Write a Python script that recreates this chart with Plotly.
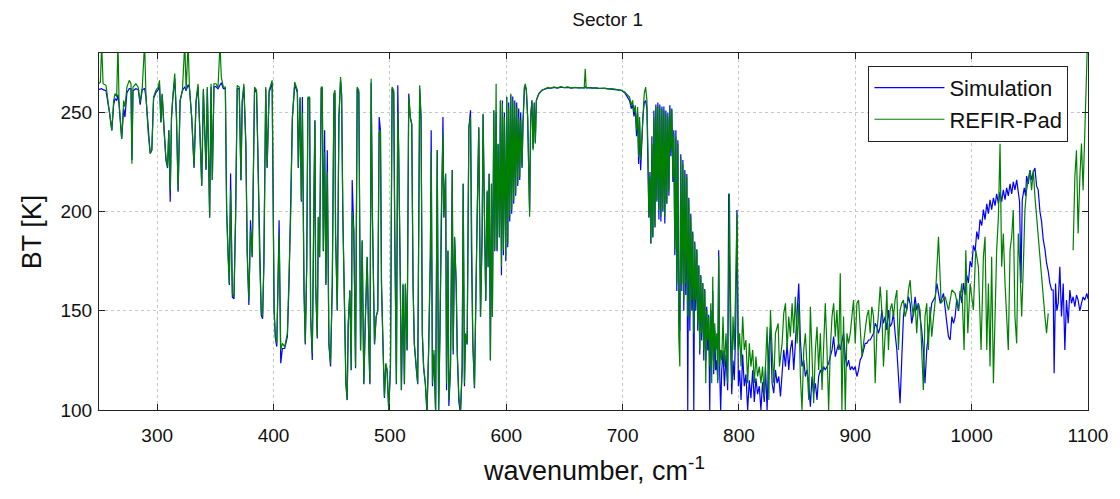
import plotly.graph_objects as go

# ---------------- data ----------------
# shared wavenumber grid 250-780 cm-1 (both spectra)
wn_a = [
    250, 251.2, 252.3, 253.5, 256, 259, 261, 262.6, 263.8, 265.2,
    266.3, 267.2, 269.5, 271.2, 272.3, 274, 276, 277.5, 278.3, 279.2,
    281.7, 283.7, 285.4, 287.2, 289.2, 290.3, 292.3, 294, 295.4, 296.9,
    298.9, 300.9, 302, 303.2, 304.3, 306, 307.5, 308.9, 310, 311.2,
    312.3, 313.4, 315.1, 316.6, 318, 319.7, 321.7, 323.7, 324.9, 326.6,
    327.7, 329.7, 331.7, 333.4, 335.1, 336.8, 338.3, 339.7, 340.8, 342,
    343.1, 344, 345.1, 346.3, 347.4, 348.8, 350.5, 352.3, 354, 355.1,
    356.9, 358.6, 359.7, 360.9, 362, 363.1, 364.6, 366, 367.4, 368.8,
    370.5, 372, 373.1, 374.5, 376.2, 377.4, 378.8, 380.2, 381.7, 383.7,
    385.4, 386.5, 388, 389.4, 390.6, 391.7, 393.3, 394.5, 396.2, 398.8,
    400.5, 401.6, 402.8, 404.8, 406.2, 407.6, 409.6, 411.9, 413.3, 414.8,
    416.2, 418.2, 420.5, 421.3, 422.8, 423.9, 424.8, 426.2, 427.3, 428.5,
    429.6, 431.0, 431.9, 433.3, 434.8, 435.6, 436.2, 437.6, 438.5, 439.6,
    441.0, 441.9, 442.8, 443.9, 445.0, 446.2, 447.6, 449.0, 450.5, 451.9,
    452.8, 453.3, 454.8, 456.2, 457.6, 458.5, 459.6, 461.0, 462.2, 463.3,
    464.2, 465.6, 466.8, 467.6, 469.0, 470.5, 471.9, 473.3, 474.8, 476.2,
    477.6, 479.0, 480.5, 481.9, 482.8, 483.9, 485.0, 486.8, 488.2, 489.6,
    490.8, 491.9, 492.8, 494.2, 495.3, 496.5, 497.6, 499.0, 500.5, 501.9,
    503.3, 504.2, 505.6, 506.8, 507.6, 509.0, 509.9, 511.3, 512.5, 513.3,
    514.8, 516.2, 517.6, 518.8, 519.9, 521.0, 522.8, 523.9, 525.6, 526.8,
    527.9, 529.0, 530.5, 531.9, 533.3, 534.8, 535.5, 536.6, 537.9, 539.3,
    540.7, 541.9, 543, 544.1, 545.6, 546.4, 547.9, 548.7, 549.9, 550.7,
    552.1, 553.6, 554.4, 555.6, 557, 557.9, 559.3, 560.7, 562.1, 563,
    564.1, 565, 566.4, 567.9, 569.3, 570.1, 571.3, 572.7, 573.6, 575,
    576.4, 577.9, 579.3, 580.1, 581.3, 582.4, 583.6, 584.4, 585.3, 586.4,
    587.3, 588.1, 589.3, 590.1, 591.3, 592.1, 593, 594.1, 595, 595.9,
    596.7, 597.6, 598.4, 599.6, 600.4, 601.3, 602.1, 603, 603.9, 604.7,
    605.6, 606.4, 607.3, 608.1, 609, 609.9, 610.7, 611.6, 612.4, 613.6,
    614.4, 615.6, 616.4, 617.3, 618.4, 619.3, 620.1, 621, 622.1, 623,
    624.1, 625, 625.9, 627, 628.1, 630.7, 633.6, 636, 638, 641,
    644, 647, 650, 653, 656, 659, 662, 665, 667, 667.9,
    668.7, 671, 674, 677, 680, 684.6, 688, 690.3, 694.6, 698.9,
    701.8, 704, 706, 707.5, 708.6, 709.8, 710.9, 712, 712.9, 713.8,
    714.6, 715.5, 716.3, 717.5, 718.6, 719.8, 720.9, 721.8, 722.6, 723.5,
    724.3, 725.2, 726, 726.9, 727.8, 728.6, 729.5, 730.3, 731.2, 732,
    732.9, 733.8, 734.6, 735.5, 736.3, 737.2, 738, 738.9, 739.8, 740.6,
    741.5, 742.3, 743.2, 744, 744.9, 745.8, 746.6, 747.5, 748.3, 749.2,
    750, 750.9, 751.8, 752.6, 753.5, 754.3, 755.2, 756, 756.9, 757.8,
    758.6, 759.5, 760.3, 761.2, 762, 762.9, 763.8, 764.6, 765.5, 766.3,
    767.2, 768, 768.9, 769.8, 770.6, 771.5, 772.3, 773.2, 774, 774.9,
    775.8, 776.6, 777.5, 778.3, 779.2, 780,
]

refir_a = [
    264.5, 265.4, 285, 264.5, 263.7, 251, 241, 256, 259.5, 258,
    285, 256, 236.8, 256, 252.8, 262.8, 266.2, 264.5, 224.2, 262.8,
    264.5, 262.8, 255.3, 262.8, 285, 259.5, 239.4, 229.3, 231, 257.8,
    261.2, 262.8, 266.2, 245.2, 259.5, 239.4, 227.6, 222.6, 241, 210.8,
    247.7, 257.8, 269.6, 247.7, 210.8, 256, 261.2, 285, 261.2, 285,
    262.8, 247.7, 222.6, 256, 264.5, 239.4, 213.3, 262, 239.4, 221.7,
    262.8, 231, 197.4, 264.5, 215.9, 264.5, 264.5, 262.8, 285, 267.9,
    262.8, 262.8, 200.8, 177.3, 163.8, 210.8, 158.8, 157.1, 197.4, 263.7,
    262.8, 215.9, 256, 264.5, 234.3, 178.9, 155.4, 190.7, 177.3, 262.8,
    261.2, 231, 177.3, 150.4, 147.1, 173.9, 262.8, 222.6, 261.2, 266.2,
    150.4, 137, 133.6, 189, 130.3, 133.6, 132, 138.7, 163.8, 199.1,
    247.7, 265.4, 261.2, 222.6, 257.8, 205.8, 250, 160.5, 133.6, 172.2,
    257.8, 257.8, 147.1, 128.6, 217.5, 246.1, 163.8, 137, 197.4, 177.3,
    262.8, 262.8, 180.6, 230, 163.8, 220, 133.6, 123.6, 163.8, 259.5,
    261.2, 189, 150.4, 247.7, 267.9, 259.5, 197.4, 138.7, 113.5, 105.1,
    143.7, 160.5, 120.2, 200, 190.7, 121.9, 262.8, 261.2, 130.3, 185.7,
    113.5, 147.1, 177.3, 133.6, 113.5, 267.0, 197.4, 133.6, 147.1, 150.4,
    240, 241, 163.8, 130.3, 106.8, 123.6, 120.2, 100, 121.9, 262.8,
    261.2, 189, 113.5, 250, 231, 163.8, 110.1, 163.8, 113.5, 163.8,
    130.3, 257.8, 247.7, 244.4, 163.8, 133.6, 120.2, 113.5, 263.7, 247.7,
    138.7, 121.9, 113.5, 100, 130.3, 180, 230, 113.5, 130.3, 100,
    231, 100, 138.7, 197.4, 239.4, 197.4, 219.2, 113.5, 180.6, 105.1,
    121.9, 220.9, 130.3, 187.3, 163.8, 130.3, 106.8, 100, 121.9, 214.2,
    113.5, 138.7, 133.6, 242.7, 247.7, 180.6, 133.6, 111.8, 138.7, 197.4,
    242.7, 147.1, 189, 249.4, 197.4, 155.4, 210.8, 172.2, 219.2, 125.2,
    214.2, 147.1, 251.1, 180.6, 264.5, 180.6, 234.3, 187.3, 256.1, 172.2,
    254.5, 180.6, 247.7, 177.3, 257.8, 184, 252.8, 197.4, 259.5, 200.8,
    256.1, 205.8, 254.5, 209.1, 252.8, 214.2, 247.7, 217.5, 246.1, 222.6,
    242.7, 262.8, 264.5, 261.2, 247.7, 222.6, 197.4, 247.7, 256.1, 231,
    254.5, 234.3, 256.1, 257.8, 259.5, 261.2, 262, 262.6, 262.2, 262.9,
    262.4, 263, 262.5, 262.9, 262.3, 262.7, 262.4, 262.6, 262.3, 272.1,
    262.4, 262.6, 262.2, 262.5, 262.1, 262.3, 261.8, 262, 261.7, 261.2,
    260.3, 258.7, 257.8, 253.6, 256.1, 250.3, 253.6, 241, 252.8, 227.6,
    247.7, 225.9, 234.3, 251.1, 259.5, 262.8, 256.1, 231, 197.4, 217.5,
    184, 234.3, 187.3, 247.7, 192.4, 252.8, 205.8, 253.6, 200.8, 252.8,
    197.4, 251.9, 200.8, 251.1, 197.4, 249.4, 204.1, 247.7, 210.8, 251.9,
    231, 251.1, 217.5, 239.4, 180.6, 237.7, 163.8, 234.3, 137, 121.9,
    227.6, 163.8, 224.2, 155.4, 219.2, 163.8, 217.5, 147.1, 205.8, 147.1,
    197.4, 155.4, 189, 138.7, 184, 155.4, 180.6, 143.7, 172.2, 130.3,
    167.2, 138.7, 163.8, 130.3, 160.5, 113.5, 150.4, 135.3, 147.1, 121.9,
    153.8, 113.5, 167.2, 120.2, 143.7, 130.3,
]

sim_a = [
    261.6, 261.8, 262, 261.5, 261, 250, 241, 254, 257, 256,
    259, 254, 236.8, 252, 247.7, 260, 262, 262, 226, 261,
    262, 261.5, 254, 261.5, 262, 258, 239.4, 229.3, 231, 257,
    260, 261.5, 264, 245, 259, 239, 226, 222, 241, 205,
    247, 257, 267, 247, 210, 256, 261, 263, 261, 264,
    262.5, 247, 222, 255, 263, 239, 213, 261, 239, 221,
    262, 231, 197, 263, 216, 263, 263, 262, 264, 265,
    262, 262, 200, 177, 163, 219.2, 157, 156, 197, 262,
    262, 215.9, 255, 263, 234, 179, 153, 195.7, 177, 262,
    260, 231, 177, 148, 146, 174, 262, 222, 260, 265,
    150, 136, 132, 195.7, 123.6, 131, 131, 137, 163, 199,
    247, 264, 260, 222, 257, 205, 257.8, 160, 133, 172,
    257, 257, 147, 125.2, 217.5, 246, 163, 136, 197, 177,
    262, 262, 180, 241, 163, 231, 133, 122, 163, 259,
    260, 189, 150, 247, 266, 259, 197, 138, 113, 105,
    143, 160, 120, 215.9, 190, 121, 262, 260, 130, 185,
    113, 147, 177, 133, 113, 265, 197, 133, 147, 150,
    247.7, 241, 163, 130, 106, 123, 120, 100, 121, 262,
    260, 189, 113, 263.7, 231, 163, 110, 163, 113, 163,
    130, 259.5, 247, 244, 163, 133, 120, 113, 262, 247,
    138, 121, 113, 98, 130, 177, 241, 112, 128, 98,
    231, 98, 138, 197, 247.7, 197, 219, 110, 180, 102,
    120, 221, 128, 187, 163, 128, 104, 98, 120, 214,
    112, 138, 133, 242, 251.1, 180, 133, 111, 138, 197,
    242, 147, 189, 249, 197, 155, 210, 172, 219, 125,
    214, 147, 251, 180, 250, 180, 234, 187, 256, 168,
    256, 178, 250, 175, 258, 182, 255, 195, 259, 199,
    258, 204, 256, 208, 255, 213, 252, 216, 250, 222,
    246, 262, 263, 261, 248, 223, 200, 248, 256, 232,
    255, 235, 256, 258, 259.5, 261.2, 262, 262.4, 262.2, 262.6,
    262.3, 262.8, 262.5, 262.7, 262.3, 262.6, 262.4, 262.5, 262.4, 263,
    262.4, 262.5, 262.3, 262.4, 262.2, 262.2, 262, 261.9, 261.6, 261.2,
    260, 258, 256, 252, 254, 248, 252, 238, 250, 224,
    245, 220.9, 232, 248, 255, 256, 252, 230, 197, 220,
    184, 238, 187, 251, 192, 254, 205, 255, 196, 254,
    195, 253, 200, 253, 194, 251, 204, 250, 208, 253.6,
    228, 252, 215, 241, 178, 241, 160, 236, 145, 140,
    229, 160, 226, 150, 221, 158, 219, 100, 207, 140,
    199, 150, 190, 100, 185, 150, 181, 140, 173, 128,
    168, 135, 164, 125, 161, 125, 152, 130, 148, 100,
    150, 125, 160, 118, 140, 120,
]

# REFIR-Pad, 780-1100 cm-1 (None = no data drawn)
wn_refir_b = [
    780.9, 781.8, 782.6, 783.5, 784.3, 785.2, 786.3, 787.5, 788.9, 790.3,
    791.8, 792.6, 793.8, 794.9, 796, 797.2, 798.3, 799.5, 800.6, 801.8,
    803.2, 804.6, 806, 807.5, 808.9, 810.3, 811.8, 813.2, 814.6, 816,
    817.5, 818.9, 820.3, 821.8, 823.2, 824.2, 825.7, 827.1, 828.5, 829.9,
    831.4, 833.7, 834.8, 837.1, 838.5, 840, 841.4, 842.8, 844.2, 845.7,
    847.1, 848.5, 850, 851.4, 852.8, 854.2, 855.7, 857.1, 858.5, 860,
    861.4, 862.8, 864.2, 865.7, 867.1, 868.5, 870, 871.4, 872.8, 874.2,
    875.7, 877.1, 878.5, 880, 881.4, 882.8, 884.2, 885.7, 887.1, 888.5,
    889.9, 891.4, 892.8, 894.2, 895.7, 897.1, 898.5, 899.9, 901.4, 902.8,
    904.2, 905.7, 907.1, 908.5, 909.9, 911.4, 912.8, 914.2, 915.7, 917.1,
    918.5, 919.9, 921.4, 922.8, 924.2, 925.7, 927.1, 928.5, 929.9, 931.4,
    932.8, 934.2, 935.7, 937.1, 938.5, 939.9, 941.4, 942.8, 944.2, 945.7,
    947.1, 948.5, 949.9, 951.4, 952.8, 954.2, 955.7, 957.1, 958.5, 959.9,
    961.4, 962.8, 964.2, 965.7, 968.7, 971.5, 973.8, 977.2, 980.1, 983,
    985.8, 988.7, 991.5, 993.5, 995, 996.7, 998.7, 1001.5, 1003.5, 1005.8,
    1008.1, 1010.1, 1011.5, 1013, 1014.4, 1015.8, 1017.2, 1018.7, 1020.1, 1021.5,
    1023, 1024.4, 1025.8, 1027.2, 1028.7, 1030.1, 1031.5, 1033, 1034.4, 1035.8,
    1037.2, 1038.7, 1040.1, 1041.5, 1043, 1044.4, 1045.8, 1047.2, 1048.7, 1050.1,
    1051.5, 1053, 1054.4, 1055.8, 1057.2, 1058.7, 1060.1, 1061.5, 1063, 1064.4,
    1065.8, 1076, 1087.2, 1088.7, 1090.1, 1091.5, 1093, 1094.4, 1095.8, 1097.2,
    1098.7, 1099.5,
]
refir_b = [
    138.7, 113.5, 177.3, 121.9, 130.3, 125, 147.1, 121.9, 138.7, 113.5,
    209.1, 163.8, 113.5, 147.1, 130.3, 163.8, 199.1, 130.3, 138.7, 121.9,
    147.1, 130.3, 135.3, 113.5, 133.6, 121.9, 130.3, 113.5, 126.9, 116.9,
    121.9, 113.5, 121.9, 106.8, 130.3, 142, 105.1, 150.4, 130.3, 113.5,
    138.7, 143.7, 121.9, 133.6, 148.7, 153.8, 130.3, 147.1, 137, 153.8,
    138.7, 157.1, 133.6, 153.8, 116.9, 100, 130.3, 138.7, 121.9, 105.1,
    152.1, 130.3, 103.4, 130.3, 142, 120.2, 138.7, 110.1, 133.6, 153.8,
    130.3, 100, 130.3, 147.1, 153.8, 137, 150.4, 130.3, 168.9, 100,
    147.1, 100, 138.7, 133.6, 138.7, 147.1, 155.4, 133.6, 153.8, 155.4,
    143.7, 127, 133.6, 142, 147.1, 150.4, 138.7, 152.1, 147.1, 113.5,
    138.7, 148.7, 162.2, 150.4, 121.9, 138.7, 160.5, 130.3, 150.4, 153.8,
    147.1, 155.4, 160.5, 130.3, 150.4, 153.8, 155.4, 147.1, 150.4, 160.5,
    165.5, 153.8, 147.1, 153.8, 138.7, 153.8, 150.4, 130.3, 110.1, 147.1,
    153.8, 130.3, 152.1, 137, 155.4, 187.3, 153.8, 157.1, 150.4, 160.5,
    158.8, 150.4, 163.8, 130.3, 180.6, 138.7, 163.8, 150.4, 180.6, 172.2,
    130.3, 177.3, 187.3, 130.3, 163.8, 121.9, 177.3, 113.5, 147.1, 180.6,
    197.4, 234.3, 172.2, 189, 163.8, 147.1, 130.3, 180.6, 187.3, 200.8,
    147.1, 133.6, 189, 172.2, 147.1, 172.2, 200.8, 210.8, 217.5, 220.9,
    210.8, 220.9, 207.5, 197.4, 187.3, 177.3, 163.8, 155.4, 147.1, 138.7,
    148.7, None, 180.6, 217.5, 231, 189, 217.5, 234.3, 210.8, 239.4,
    285, 285,
]

# Simulation, 780-1100 cm-1
wn_sim_b = [
    780.9, 781.8, 782.6, 783.5, 784.3, 785.2, 786.3, 787.5, 788.9, 790.3,
    791.2, 792.6, 793.8, 794.9, 796, 797.2, 798.3, 799.5, 800.6, 801.8,
    803.2, 804.6, 806, 807.5, 808.9, 810.3, 811.8, 813.2, 814.6, 816,
    817.5, 818.9, 820.3, 821.8, 822.8, 824.2, 825.7, 827.1, 828.5, 829.9,
    831.4, 832.8, 834.2, 835.7, 837.1, 838.5, 840, 841.4, 842.8, 844.2,
    845.7, 847.1, 848.5, 850, 851.4, 852.8, 854.2, 855.7, 857.1, 858.5,
    860, 861.4, 862.8, 864.2, 865.7, 867.1, 868.5, 870, 871.4, 872.8,
    874.2, 875.7, 877.1, 878.5, 880, 881.4, 882.8, 884.2, 885.7, 887.1,
    888.5, 889.9, 891.4, 892.8, 894.2, 895.7, 897.1, 898.5, 899.9, 901.4,
    902.8, 904.2, 905.7, 907.1, 908.5, 909.9, 911.4, 912.8, 914.2, 915.7,
    917.1, 918.5, 919.9, 921.4, 922.8, 924.2, 925.7, 927.1, 928.5, 929.9,
    931.4, 932.8, 934.2, 935.7, 937.1, 938.5, 939.9, 941.4, 942.8, 944.2,
    945.7, 947.1, 948.5, 949.9, 951.4, 952.8, 954.2, 955.7, 957.1, 958.5,
    959.9, 961.4, 962.8, 964.2, 965.7, 968.7, 970.1, 973, 975.8, 978.7,
    980.1, 981.5, 983, 984.4, 985.8, 987.2, 988.7, 990.1, 991.5, 993.0,
    994.4, 995.8, 997.2, 998.7, 1000.1, 1001.5, 1003.0, 1004.4, 1005.8, 1007.2,
    1008.7, 1010.1, 1011.5, 1013.0, 1014.4, 1015.8, 1017.2, 1018.7, 1020.1, 1021.5,
    1023.0, 1024.4, 1025.8, 1027.2, 1028.7, 1030.1, 1031.5, 1033.0, 1034.4, 1035.8,
    1037.2, 1038.7, 1039.5, 1041.2, 1042.4, 1043.5, 1045.2, 1046.4, 1047.2, 1048.7,
    1050.1, 1051.5, 1053.0, 1054.4, 1055.8, 1057.2, 1058.7, 1060.1, 1061.5, 1063.0,
    1064.4, 1065.8, 1067.2, 1068.7, 1070.1, 1070.9, 1072.1, 1073.2, 1074.4, 1075.8,
    1077.2, 1078.7, 1080.1, 1081.5, 1083, 1084.4, 1085.8, 1087.2, 1088.7, 1090.1,
    1091.5, 1093, 1094.4, 1095.8, 1097.2, 1099, 1100,
]
sim_b = [
    125, 115, 180.6, 118, 100, 120, 130, 112, 128, 110,
    209, 140, 108, 125, 115, 140, 200.8, 112, 120, 105,
    128, 112, 118, 100, 115, 106, 120, 104, 116, 108,
    112, 100, 114, 104, 121.9, 100, 130.3, 142, 113.5, 108.5,
    120.2, 113.5, 116.9, 106.8, 121.9, 130.3, 121.9, 133.6, 120.2, 130.3,
    135.3, 120.2, 133.6, 150.4, 163.8, 135.3, 121.9, 125.2, 116.9, 120.2,
    113.5, 101.7, 116.9, 108.5, 113.5, 105.1, 116.9, 120.2, 118, 121.9,
    120.2, 121.9, 123.6, 126.9, 130.3, 137, 126.9, 130.3, 133.6, 130.3,
    135.3, 138.7, 126.9, 121.9, 125.2, 120.2, 121.9, 120.2, 121.9, 116.9,
    120.2, 125.2, 126.9, 130.3, 133.6, 133.6, 135.3, 135.3, 137, 138.7,
    143.7, 142, 138.7, 142, 150.4, 143.7, 147.1, 140.3, 150.4, 142,
    143.7, 148.7, 138.7, 130.3, 116.9, 103.4, 125.2, 147.1, 153.8, 150.4,
    157.1, 153.8, 143.7, 148.7, 157.1, 150.4, 153.8, 147.1, 140.3, 130.3,
    113.5, 130.3, 138.7, 147.1, 153.8, 157.1, 163.8, 153.8, 158.8, 143.7,
    137, 135.3, 147.1, 143.7, 147, 156, 150, 160, 154, 164,
    158, 168, 164, 175, 172, 183, 180, 190, 186, 196,
    193, 201, 196, 204, 199, 206, 201, 207, 203, 209,
    204, 210, 205, 211, 206, 212, 208, 214, 209, 215,
    211, 216, 212, 205, 164, 206, 212, 208, 218, 214,
    221, 216, 220, 222, 213, 211, 200, 195, 186, 181,
    174, 170, 164, 160.5, 160.5, 118.5, 163.8, 150, 153.8, 172.2,
    147.1, 163.8, 130.3, 155.4, 143.7, 160.5, 153.8, 157.1, 152.1, 158,
    155.4, 150, 153.8, 157, 155.4, 158.8, 156,
]

x_ticks = [300, 400, 500, 600, 700, 800, 900, 1000, 1100]
y_ticks = [100, 150, 200, 250]
series_names = ["Simulation", "REFIR-Pad"]
title_text = "Sector 1"
x_title = "wavenumber, cm<sup>-1</sup>"
y_title = "BT [K]"

assert len(wn_a) == len(refir_a) == len(sim_a)
assert len(wn_refir_b) == len(refir_b)
assert len(wn_sim_b) == len(sim_b)

FONT = "Liberation Sans, Arial, Helvetica, sans-serif"

fig = go.Figure()
fig.add_trace(go.Scatter(
    x=wn_a + wn_sim_b, y=sim_a + sim_b, mode="lines", name=series_names[0],
    line=dict(color="#0000ff", width=1.2), connectgaps=False))
fig.add_trace(go.Scatter(
    x=wn_a + wn_refir_b, y=refir_a + refir_b, mode="lines", name=series_names[1],
    line=dict(color="#008000", width=1.2), connectgaps=False))

axis_common = dict(
    showline=True, mirror="ticks", linecolor="#222222", linewidth=1,
    ticks="inside", ticklen=6, tickcolor="#222222",
    showgrid=True, gridcolor="#c8c8c8", griddash="dot", gridwidth=1,
    zeroline=False, tickfont=dict(family=FONT, size=19, color="#111111"),
)

fig.update_layout(
    width=1120, height=499,
    margin=dict(l=99, r=28, t=53, b=89),
    paper_bgcolor="white", plot_bgcolor="white",
    font=dict(family=FONT, color="#111111"),
    title=dict(text=title_text, x=0.5425, xanchor="center", y=0.962, yanchor="middle",
               yref="container", font=dict(family=FONT, size=19, color="#111111")),
    xaxis=dict(range=[250, 1100], tickvals=x_ticks, ticklabelstandoff=8, **axis_common),
    yaxis=dict(range=[100, 280], tickvals=y_ticks, ticklabelstandoff=2, **axis_common),
    showlegend=True,
    legend=dict(x=0.778, y=0.964, xanchor="left", yanchor="top",
                bgcolor="white", bordercolor="#222222", borderwidth=1,
                font=dict(family=FONT, size=22, color="#111111"),
                itemwidth=70, tracegroupgap=0),
    annotations=[
        dict(text=x_title, xref="paper", yref="paper", x=0.5, y=-0.165,
             xanchor="center", yanchor="middle", showarrow=False,
             font=dict(family=FONT, size=27, color="#111111")),
        dict(text=y_title, xref="paper", yref="paper", x=-0.068, y=0.5,
             xanchor="center", yanchor="middle", showarrow=False, textangle=-90,
             font=dict(family=FONT, size=27, color="#111111")),
    ],
)

fig.write_html("out.html")
